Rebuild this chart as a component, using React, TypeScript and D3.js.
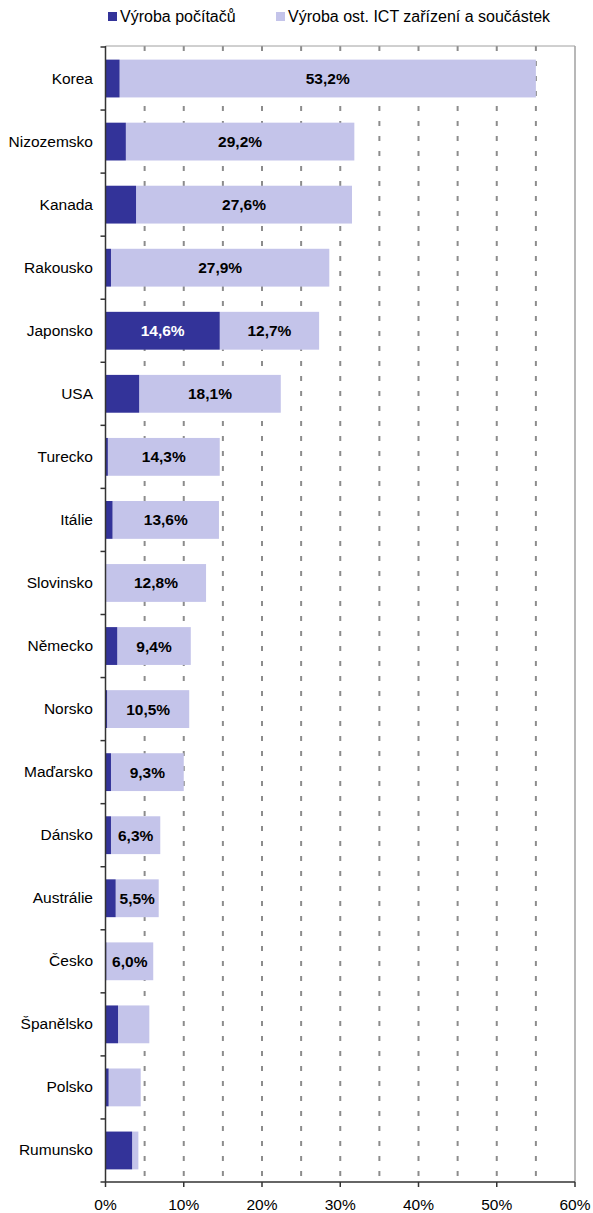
import React from "react";
import * as d3 from "d3";

const categories = ["Korea","Nizozemsko","Kanada","Rakousko","Japonsko","USA","Turecko","Itálie","Slovinsko","Německo","Norsko","Maďarsko","Dánsko","Austrálie","Česko","Španělsko","Polsko","Rumunsko"];
const computers = [1.8,2.6,3.9,0.7,14.6,4.3,0.3,0.9,0.05,1.5,0.2,0.7,0.7,1.3,0.1,1.6,0.4,3.4];
const otherIct = [53.2,29.2,27.6,27.9,12.7,18.1,14.3,13.6,12.8,9.4,10.5,9.3,6.3,5.5,6.0,4.0,4.1,0.8];
const computerLabels = ["","","","","14,6%","","","","","","","","","","","","",""];
const otherLabels = ["53,2%","29,2%","27,6%","27,9%","12,7%","18,1%","14,3%","13,6%","12,8%","9,4%","10,5%","9,3%","6,3%","5,5%","6,0%","","",""];
const xTicks = [0,10,20,30,40,50,60];
const gridValues = [5,10,15,20,25,30,35,40,45,50,55];
const seriesNames = ["Výroba počítačů","Výroba ost. ICT zařízení a součástek"];

const W = 593, H = 1213;
const left = 105.5, right = 575, top = 46, bottom = 1182;
const DARK = "#333399", LIGHT = "#c4c4ea";
const FONT = "'Liberation Sans', Arial, sans-serif";
const FS = 15.5;

export default function App() {
  const x = d3.scaleLinear().domain([0, 60]).range([left, right]);
  const y = d3.scaleBand<string>().domain(categories).range([top + 1, bottom]).paddingInner(0.4).paddingOuter(0.2);
  const boundaries = d3.range(categories.length + 1).map(i => top + 1 + i * (bottom - top - 1) / categories.length);
  return (
    <svg width={W} height={H} style={{ position: "absolute", left: 0, top: 0, background: "#fff" }} fontFamily={FONT}>
      {/* legend */}
      <rect x={108} y={12} width={9} height={9} fill={DARK} />
      <text x={120} y={22} fontSize={16} fill="#000">{seriesNames[0]}</text>
      <rect x={276} y={12} width={9} height={9} fill={LIGHT} />
      <text x={288} y={22} fontSize={16} fill="#000">{seriesNames[1]}</text>

      {/* grid */}
      {gridValues.map(v => (
        <line key={v} x1={x(v)} x2={x(v)} y1={top} y2={bottom} stroke="#8c8c8c" strokeWidth={2} strokeDasharray="5,10" />
      ))}
      <line x1={left} x2={right} y1={top} y2={top} stroke="#a0a0a0" strokeWidth={1} />
      <line x1={right} x2={right} y1={top} y2={bottom} stroke="#a0a0a0" strokeWidth={1.5} />

      {/* bars */}
      {categories.map((c, i) => {
        const by = y(c)!;
        const bh = y.bandwidth();
        const x0 = x(0), x1 = x(computers[i]), x2 = x(computers[i] + otherIct[i]);
        const cy = by + bh / 2;
        return (
          <g key={c}>
            <rect x={x1} y={by} width={x2 - x1} height={bh} fill={LIGHT} />
            <rect x={x0} y={by} width={x1 - x0} height={bh} fill={DARK} />
            {otherLabels[i] && (
              <text x={(x1 + x2) / 2} y={cy + 5.5} textAnchor="middle" fontSize={FS} fontWeight="bold" fill="#000">{otherLabels[i]}</text>
            )}
            {computerLabels[i] && (
              <text x={(x0 + x1) / 2} y={cy + 5.5} textAnchor="middle" fontSize={FS} fontWeight="bold" fill="#fff">{computerLabels[i]}</text>
            )}
            <text x={93} y={cy + 5} textAnchor="end" fontSize={FS} fill="#000">{c}</text>
          </g>
        );
      })}

      {/* axes */}
      <line x1={left} x2={left} y1={top} y2={bottom} stroke="#333" strokeWidth={1.5} />
      {boundaries.map((b, i) => (
        <line key={i} x1={left - 5} x2={left} y1={b} y2={b} stroke="#333" strokeWidth={1.5} />
      ))}
      <line x1={left} x2={right} y1={bottom} y2={bottom} stroke="#333" strokeWidth={1.5} />
      {xTicks.map(t => (
        <g key={t}>
          <line x1={x(t)} x2={x(t)} y1={bottom} y2={bottom + 5} stroke="#333" strokeWidth={1.5} />
          <text x={x(t)} y={bottom + 28} textAnchor="middle" fontSize={FS} fill="#000">{t + "%"}</text>
        </g>
      ))}
    </svg>
  );
}
